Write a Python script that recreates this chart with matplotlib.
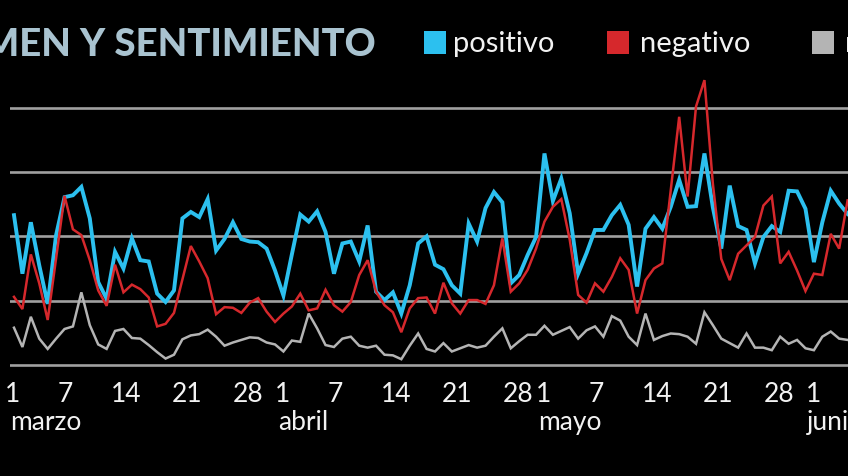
import matplotlib
matplotlib.use("Agg")
import matplotlib.pyplot as plt
from matplotlib.patches import Rectangle
from matplotlib.transforms import blended_transform_factory

# ---------------- data (grid units, one value per day from 1 March) ----------------
positivo = [2.33, 1.42, 2.22, 1.55, 0.95, 2.02, 2.61, 2.64, 2.77, 2.28,
            1.29, 1.03, 1.76, 1.50, 1.97, 1.63, 1.61, 1.11, 0.98, 1.16,
            2.28, 2.38, 2.30, 2.58, 1.78, 1.96, 2.22, 1.96, 1.92, 1.91,
            1.81, 1.47, 1.08, 1.72, 2.34, 2.23, 2.39, 2.07, 1.42, 1.89,
            1.92, 1.61, 2.17, 1.14, 1.01, 1.13, 0.80, 1.24, 1.89, 2.00,
            1.56, 1.49, 1.24, 1.11, 2.20, 1.92, 2.44, 2.69, 2.53, 1.27,
            1.40, 1.71, 1.99, 3.29, 2.55, 2.90, 2.36, 1.42, 1.74, 2.10,
            2.10, 2.33, 2.49, 2.18, 1.22, 2.12, 2.30, 2.12, 2.46, 2.88,
            2.46, 2.47, 3.29, 2.45, 1.81, 2.79, 2.16, 2.10, 1.58, 1.99,
            2.16, 2.07, 2.71, 2.70, 2.43, 1.60, 2.22, 2.71, 2.51, 2.35]

negativo = [1.06, 0.87, 1.72, 1.27, 0.70, 1.66, 2.63, 2.11, 2.02, 1.63,
            1.16, 0.92, 1.56, 1.13, 1.25, 1.18, 1.05, 0.60, 0.64, 0.81,
            1.33, 1.85, 1.61, 1.35, 0.79, 0.90, 0.89, 0.81, 0.97, 1.04,
            0.83, 0.67, 0.80, 0.91, 1.11, 0.85, 0.88, 1.17, 0.93, 0.83,
            0.98, 1.40, 1.63, 1.14, 0.93, 0.82, 0.51, 0.88, 1.04, 1.05,
            0.80, 1.28, 0.96, 0.80, 1.01, 1.01, 0.95, 1.24, 1.97, 1.14,
            1.27, 1.48, 1.81, 2.23, 2.46, 2.58, 1.95, 1.09, 0.97, 1.27,
            1.14, 1.37, 1.66, 1.48, 0.80, 1.32, 1.50, 1.58, 2.72, 3.86,
            2.62, 4.02, 4.43, 2.82, 1.65, 1.32, 1.73, 1.86, 1.99, 2.48,
            2.62, 1.58, 1.76, 1.47, 1.15, 1.42, 1.40, 2.04, 1.81, 2.56]

neutro = [0.58, 0.28, 0.75, 0.41, 0.25, 0.41, 0.56, 0.60, 1.13, 0.62,
          0.32, 0.25, 0.53, 0.56, 0.42, 0.41, 0.31, 0.20, 0.10, 0.16,
          0.40, 0.46, 0.48, 0.55, 0.44, 0.30, 0.35, 0.39, 0.43, 0.42,
          0.35, 0.32, 0.21, 0.38, 0.36, 0.80, 0.57, 0.31, 0.28, 0.41,
          0.44, 0.30, 0.27, 0.30, 0.16, 0.15, 0.09, 0.30, 0.49, 0.25,
          0.21, 0.34, 0.21, 0.26, 0.31, 0.27, 0.30, 0.44, 0.57, 0.26,
          0.37, 0.47, 0.47, 0.61, 0.47, 0.53, 0.59, 0.41, 0.54, 0.60,
          0.44, 0.76, 0.69, 0.44, 0.31, 0.80, 0.39, 0.45, 0.49, 0.48,
          0.44, 0.33, 0.82, 0.62, 0.41, 0.34, 0.27, 0.49, 0.27, 0.27,
          0.23, 0.44, 0.33, 0.39, 0.26, 0.23, 0.44, 0.52, 0.41, 0.39]

tick_days = [0, 6, 13, 20, 27, 31, 37, 44, 51, 58, 61, 67, 74, 81, 88, 92]
tick_labels = ["1", "7", "14", "21", "28", "1", "7", "14", "21", "28",
               "1", "7", "14", "21", "28", "1"]
month_days = [0, 31, 61, 92]
month_labels = ["marzo", "abril", "mayo", "junio"]
gridlines = [0, 1, 2, 3, 4]

title = "VOLUMEN Y SENTIMIENTO"
legend_labels = ["positivo", "negativo", "neutro"]

# ---------------- style ----------------
C_POS = "#2cc0ef"
C_NEG = "#d6282c"
C_NEU = "#b4b4b4"
C_GRID = "#a0a0a0"
C_TXT = "#f2f2f2"
C_TITLE = "#a9c3d0"
FONT = "Lato"

W, H = 848, 477
fig = plt.figure(figsize=(W / 100, H / 100), dpi=100, facecolor="black")

# axes spanning x: 10..848 px, y: 70..370 px
ax = fig.add_axes([10 / W, 1 - 370 / H, 838 / W, 300 / H])
ax.set_facecolor("black")
px_per_day = 8.42
x0 = 14
ax.set_xlim((10 - x0) / px_per_day, (848 - x0) / px_per_day)
ax.set_ylim((366 - 370) / 64.3, (366 - 70) / 64.3)

for s in ax.spines.values():
    s.set_visible(False)

for g in gridlines:
    ax.axhline(g, color=C_GRID, lw=1.9, zorder=1)

days = list(range(len(positivo)))
ax.plot(days, neutro, color=C_NEU, lw=1.8, zorder=2, solid_joinstyle="miter")
ax.plot(days, positivo, color=C_POS, lw=2.8, zorder=3, solid_joinstyle="miter")
ax.plot(days, negativo, color=C_NEG, lw=1.8, zorder=4, solid_joinstyle="miter")

# labels in the reference are spaced slightly wider than the data points
tick_pos = [d * 1.0333 - 0.12 for d in tick_days]
ax.set_yticks([])
ax.set_xticks(tick_pos)
ax.set_xticklabels(tick_labels, fontsize=19, color=C_TXT, family=FONT)
ax.tick_params(axis="x", length=0, pad=9)

trans = blended_transform_factory(ax.transData, ax.transAxes)
for d, m in zip(month_days, month_labels):
    ax.text(d * 1.0285 - 0.475, -0.135, m, transform=trans, ha="left", va="top",
            fontsize=19, color=C_TXT, family=FONT, clip_on=False)

# title (cropped on the left like the reference)
fig.text(376 / W, 1 - 45 / H, title, ha="right", va="center", fontsize=27.6,
         fontweight="black", color=C_TITLE, family=FONT)

# legend
def fx(px):
    return px / W

def fy(py):
    return 1 - py / H

squares = [(424, C_POS), (607, C_NEG), (812, C_NEU)]
texts_x = [453, 640, 845]
for (sx, c), tx, lab in zip(squares, texts_x, legend_labels):
    fig.add_artist(Rectangle((fx(sx), fy(55)), 22 / W, 23 / H, transform=fig.transFigure,
                             facecolor=c, edgecolor="none"))
    fig.text(fx(tx), fy(44), lab, ha="left", va="center", fontsize=21, color=C_TXT,
             family=FONT)

fig.savefig("out.png", dpi=100, facecolor="black")
